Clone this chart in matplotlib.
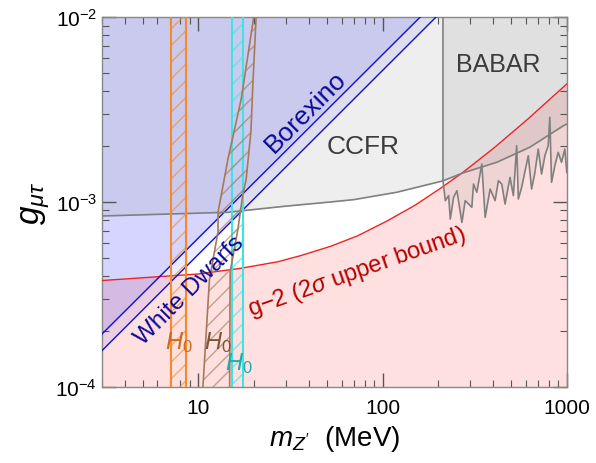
import numpy as np
import matplotlib
matplotlib.use("Agg")
import matplotlib.pyplot as plt

plt.rcParams['font.family'] = ['Liberation Sans', 'DejaVu Sans']
plt.rcParams['mathtext.fontset'] = 'custom'
plt.rcParams['mathtext.rm'] = 'Liberation Sans'
plt.rcParams['mathtext.it'] = 'Liberation Sans:italic'
plt.rcParams['mathtext.bf'] = 'Liberation Sans:bold'
plt.rcParams['hatch.linewidth'] = 1.0

# Borexino and white dwarf bounds (excluded above the line)
borexino_m = [3, 160]
borexino_g = [1.93e-4, 1e-2]
wd_m = [3, 195]
wd_g = [1.57e-4, 1e-2]

# CCFR bound (excluded above)
ccfr_m = [3, 14.5, 30, 52, 70, 120, 212, 275, 417, 631, 955, 1000]
ccfr_g = [8.4e-4, 8.8e-4, 9.5e-4, 1.0e-3, 1.03e-3, 1.13e-3, 1.30e-3, 1.44e-3,
          1.64e-3, 1.98e-3, 2.58e-3, 2.64e-3]

# BABAR bound (excluded above)
babar_m = [212.8, 212.8, 219.1, 228.4, 233.2, 243.0, 253.3, 269.6, 281.0, 305.3,
           311.7, 324.9, 345.8, 360.5, 383.6, 408.2, 425.6, 443.6, 462.4, 492.0,
           512.9, 534.6, 545.8, 568.9, 618.0, 644.2, 671.5, 700.0, 729.6, 760.5,
           792.7, 809.0, 826.4, 861.4, 898.0, 936.0, 975.4, 1000]
babar_g = [1e-2, 1.303e-3, 1.017e-3, 1.082e-3, 8.09e-4, 1.06e-3, 1.151e-3, 7.76e-4,
           1.017e-3, 9.36e-4, 1.251e-3, 1.128e-3, 1.604e-3, 8.26e-4, 1.175e-3,
           1.017e-3, 1.304e-3, 1.251e-3, 9.75e-4, 1.359e-3, 1.082e-3, 2.016e-3,
           1.038e-3, 1.2e-3, 1.78e-3, 1.175e-3, 1.446e-3, 1.934e-3, 1.417e-3,
           1.78e-3, 2.016e-3, 2.87e-3, 1.277e-3, 1.572e-3, 1.856e-3, 1.638e-3,
           1.934e-3, 1.446e-3]

# g-2 (2 sigma upper bound), allowed below
gm2_m = [3, 10, 17, 27, 36, 52, 73, 106, 150, 210, 274, 400, 615, 1000]
gm2_g = [3.76e-4, 4.08e-4, 4.38e-4, 4.75e-4, 5.13e-4, 5.75e-4, 6.55e-4, 7.9e-4,
         9.6e-4, 1.2e-3, 1.45e-3, 1.95e-3, 2.81e-3, 4.35e-3]

# H0 bands
h0_orange_m = [7.1, 8.6]
h0_cyan_m = [15.2, 17.5]
h0_brown_left_m = [10.6, 11.5, 12.8, 12.8, 14.5, 17.1, 20.0]
h0_brown_left_g = [1e-4, 3.8e-4, 6.9e-4, 8.8e-4, 1.71e-3, 3.6e-3, 1e-2]
h0_brown_right_m = [20.6, 19.8, 19.3, 18.2, 17.4, 16.4, 14.9, 14.8]
h0_brown_right_g = [1e-2, 4.4e-3, 2.39e-3, 1.33e-3, 1.08e-3, 7.1e-4, 4.2e-4, 1e-4]

m_lim = (3, 1000)
g_lim = (1e-4, 1e-2)

fig = plt.figure(figsize=(5.96, 4.64), dpi=100)
ax = fig.add_axes([0.171, 0.164, 0.780, 0.797])
ax.set_xscale('log')
ax.set_yscale('log')

# shaded regions
ax.fill_between(gm2_m, g_lim[0], gm2_g, color='red', alpha=0.12, lw=0, zorder=1)
ax.fill_between(wd_m, wd_g, g_lim[1], color='blue', alpha=0.08, lw=0, zorder=1)
ax.fill_between(borexino_m, borexino_g, g_lim[1], color='blue', alpha=0.09, lw=0, zorder=1)
ax.fill_between(ccfr_m, ccfr_g, g_lim[1], color='#808080', alpha=0.13, lw=0, zorder=1)
ax.fill_between(babar_m[1:], babar_g[1:], g_lim[1], color='#808080', alpha=0.12, lw=0, zorder=1)

# boundary lines
ax.plot(gm2_m, gm2_g, color='#ee2222', lw=1.0, zorder=3)
ax.plot(wd_m, wd_g, color='#1010dd', lw=1.0, zorder=3)
ax.plot(borexino_m, borexino_g, color='#1010dd', lw=1.0, zorder=3)
ax.plot(ccfr_m, ccfr_g, color='#808080', lw=1.2, zorder=3)
ax.plot(babar_m, babar_g, color='#808080', lw=1.2, zorder=3)

# H0 bands: lighter hatching, solid borders
ax.fill_betweenx(g_lim, h0_orange_m[0], h0_orange_m[1], facecolor='none',
                 edgecolor=(0.97, 0.54, 0.16, 0.65), hatch='//', lw=0, zorder=4)
for m in h0_orange_m:
    ax.axvline(m, color='#f7892a', lw=1.5, zorder=4)
ax.fill_betweenx(g_lim, h0_cyan_m[0], h0_cyan_m[1], facecolor='none',
                 edgecolor=(0.25, 0.89, 0.89, 0.65), hatch='//', lw=0, zorder=4)
for m in h0_cyan_m:
    ax.axvline(m, color='#3fe3e3', lw=1.5, zorder=4)
ax.fill(h0_brown_left_m + h0_brown_right_m, h0_brown_left_g + h0_brown_right_g,
        facecolor='none', edgecolor=(0.65, 0.48, 0.35, 0.65), hatch='//', lw=0, zorder=4)
ax.plot(h0_brown_left_m, h0_brown_left_g, color='#a57a58', lw=1.2, zorder=4)
ax.plot(h0_brown_right_m, h0_brown_right_g, color='#a57a58', lw=1.2, zorder=4)

# labels
ax.text(38.3, 3.1e-3, 'Borexino', rotation=45, color='#0a0a96', fontsize=19,
        ha='center', va='center', zorder=5)
ax.text(8.94, 3.35e-4, 'White Dwarfs', rotation=45, color='#0a0a96', fontsize=17.5,
        ha='center', va='center', zorder=5)
ax.text(78, 2.01e-3, 'CCFR', color='#3c3c3c', fontsize=19, ha='center', va='center', zorder=5)
ax.text(424, 5.57e-3, 'BABAR', color='#3c3c3c', fontsize=18, ha='center', va='center', zorder=5)
ax.text(72.4, 4.2e-4, r'g$-$2 (2$\sigma$ upper bound)', rotation=19.5, color='#b50000',
        fontsize=17, ha='center', va='center', zorder=5)
ax.text(7.8, 1.75e-4, '$H_0$', color='#cc6a1c', fontsize=17, ha='center', va='center', zorder=5)
ax.text(12.8, 1.75e-4, '$H_0$', color='#7d5534', fontsize=17, ha='center', va='center', zorder=5)
ax.text(16.6, 1.36e-4, '$H_0$', color='#20aaaa', fontsize=17, ha='center', va='center', zorder=5)

ax.set_xlim(*m_lim)
ax.set_ylim(*g_lim)
ax.set_xticks([10, 100, 1000])
ax.set_xticklabels(['10', '100', '1000'])
ax.set_yticks([1e-4, 1e-3, 1e-2])
ax.set_yticklabels([r'$10^{-4}$', r'$10^{-3}$', r'$10^{-2}$'])

ax.tick_params(which='both', direction='in', top=True, right=True, color='#555555')
ax.tick_params(which='major', length=10, width=1.0, labelsize=15)
ax.tick_params(which='minor', length=5, width=0.8)
ax.tick_params(axis='x', which='major', pad=8)
ax.tick_params(axis='y', which='major', pad=3.5)
for s in ax.spines.values():
    s.set_color('#888888')
    s.set_linewidth(1.0)

ax.set_xlabel(r"$m_{Z'}$  (MeV)", fontsize=20, labelpad=4)
ax.set_ylabel(r'$g_{\mu\tau}$', fontsize=24, labelpad=2)

fig.savefig('out.png', dpi=100)
